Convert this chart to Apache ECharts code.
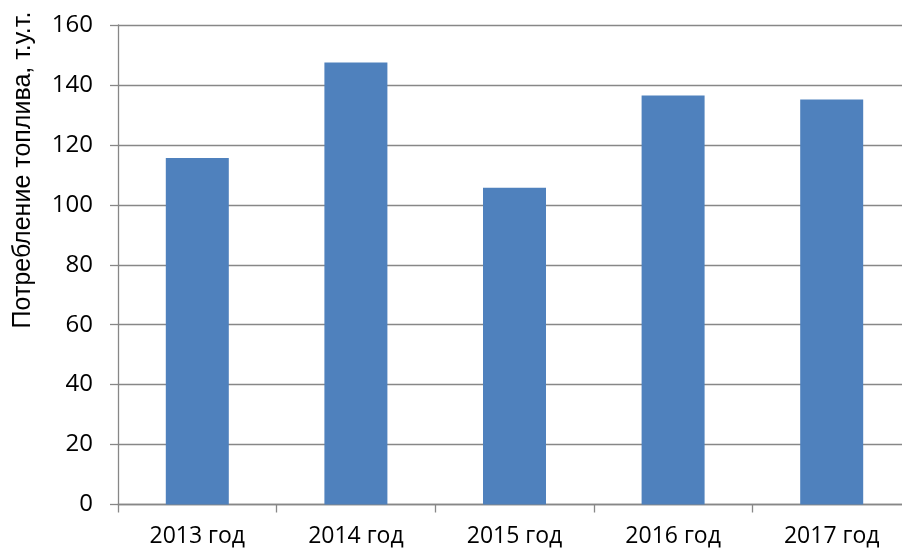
<!DOCTYPE html>
<html>
<head>
<meta charset="utf-8">
<script src="https://cdn.jsdelivr.net/npm/echarts@6/dist/echarts.min.js"></script>
<style>
  html, body { margin: 0; padding: 0; background: #fff; overflow: hidden; }
  #chart { width: 911px; height: 551px; }
</style>
</head>
<body>
<div id="chart"></div>
<script>
// Fuel consumption by year
const years = ['2013 год', '2014 год', '2015 год', '2016 год', '2017 год'];
const consumption = [115.6, 147.5, 105.7, 136.5, 135.1];
const yTicks = { min: 0, max: 160, interval: 20 };
const yTitle = 'Потребление топлива, т.у.т.';

const chart = echarts.init(document.getElementById('chart'), null, { renderer: 'canvas' });
const gridColor = '#878787';
const labelFont = '"Open Sans", "Liberation Sans", sans-serif';

chart.setOption({
  animation: false,
  backgroundColor: '#ffffff',
  grid: { left: 118, top: 25, bottom: 46.5, right: 0, containLabel: false },
  xAxis: {
    type: 'category',
    data: years,
    boundaryGap: true,
    axisLine: { lineStyle: { color: gridColor, width: 1.3 } },
    axisTick: { show: true, length: 8, alignWithLabel: false, lineStyle: { color: gridColor, width: 1.3 } },
    axisLabel: { color: '#000', fontFamily: labelFont, fontSize: 23, margin: 20 }
  },
  yAxis: {
    type: 'value',
    min: yTicks.min,
    max: yTicks.max,
    interval: yTicks.interval,
    axisLine: { show: true, lineStyle: { color: gridColor, width: 1.3 } },
    axisTick: { show: true, length: 8, lineStyle: { color: gridColor, width: 1.3 } },
    splitLine: { show: true, lineStyle: { color: gridColor, width: 1.3 } },
    axisLabel: { color: '#000', fontFamily: labelFont, fontSize: 24, margin: 25 }
  },
  graphic: [{
    type: 'text',
    x: 23,
    y: 170,
    rotation: Math.PI / 2,
    style: {
      text: yTitle,
      fill: '#000',
      fontSize: 25,
      fontFamily: '"Liberation Sans", Arial, sans-serif',
      textAlign: 'center',
      textVerticalAlign: 'middle'
    }
  }],
  series: [{
    type: 'bar',
    data: consumption,
    barWidth: 63,
    itemStyle: { color: '#4F81BD' }
  }]
});
</script>
</body>
</html>
